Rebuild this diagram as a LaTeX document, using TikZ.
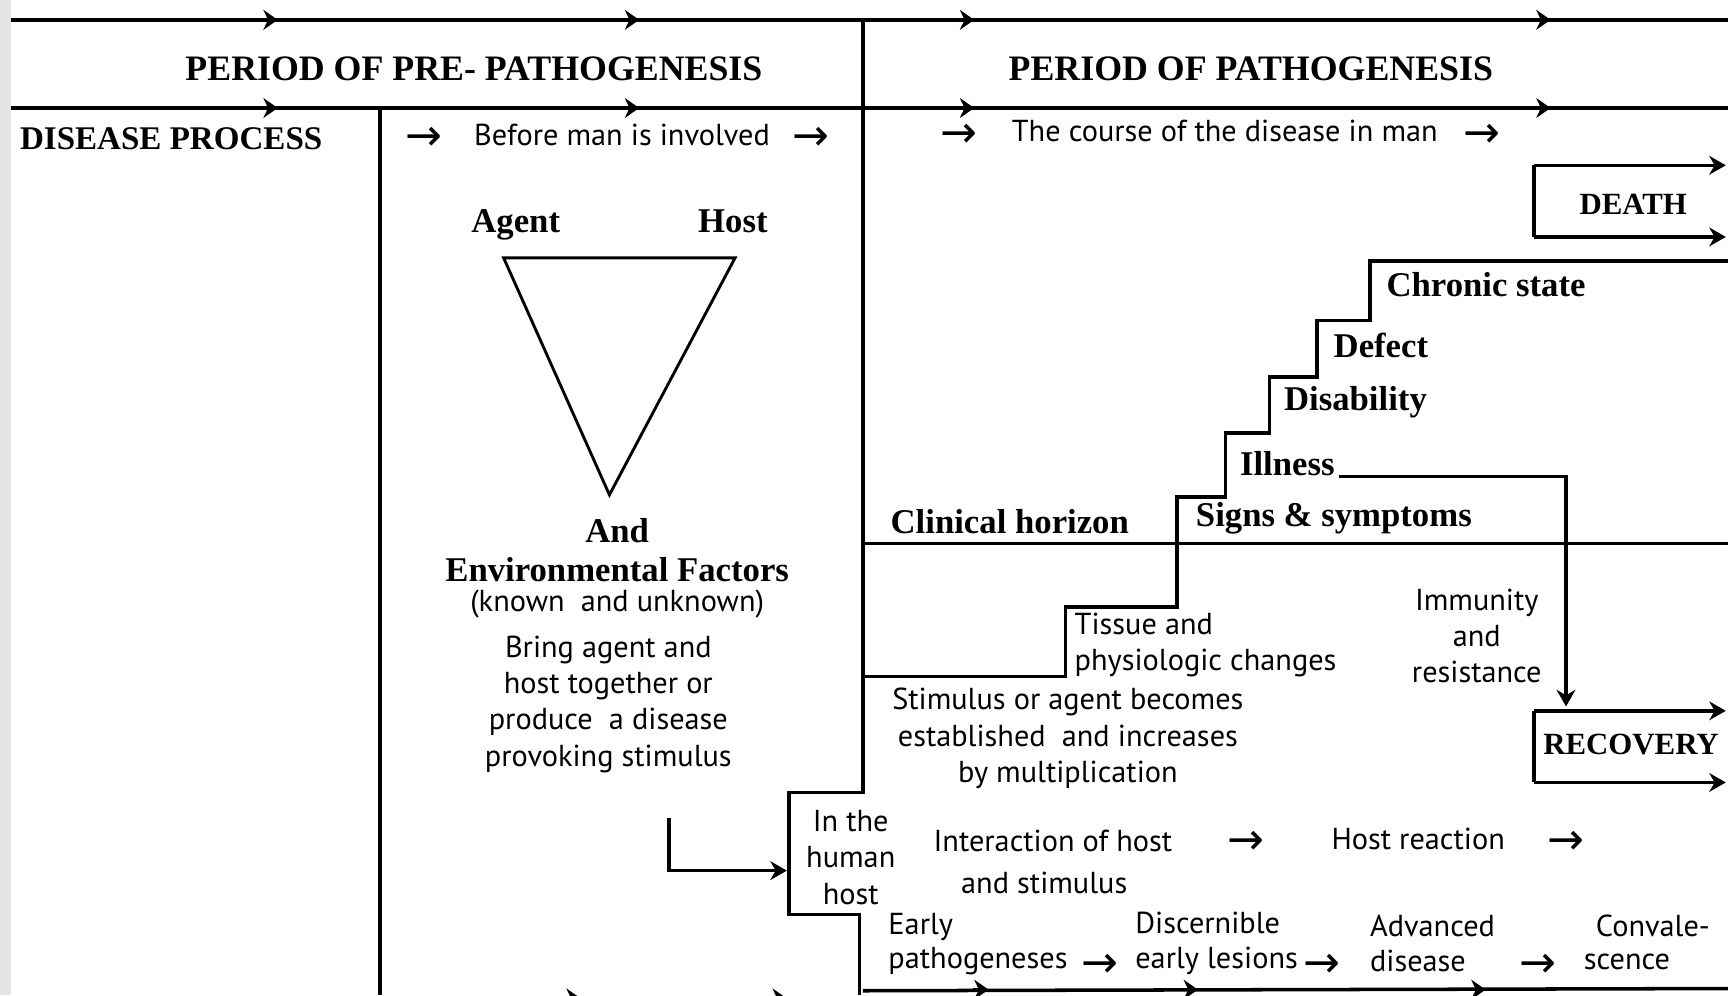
\documentclass[tikz,border=0pt]{standalone}
\usepackage{fontspec}
\setmainfont{PT Sans}
\newfontfamily\serifhd{Liberation Serif}
\newfontfamily\arrowfont{DejaVu Sans}
\usetikzlibrary{arrows.meta}

\tikzset{
  rule/.style={line width=3.2pt},
  midtip/.style={-{Stealth[length=13pt,width=18pt]}},
  endtip/.style={-{Stealth[length=15pt,width=17pt]}},
  head/.style={inner sep=0pt, font=\serifhd\bfseries\fontsize{32.5}{36}\selectfont},
  stage/.style={inner sep=0pt, font=\serifhd\bfseries\fontsize{31.5}{35}\selectfont, align=center},
  body/.style={inner sep=0pt, font=\fontsize{27.5}{33}\selectfont, align=center},
  txtarr/.style={inner sep=0pt, font=\arrowfont\fontsize{40}{40}\selectfont},
}

\begin{document}
\begin{tikzpicture}[x=1pt,y=-1pt]
\useasboundingbox (0,0) rectangle (1568,903);
\fill[black!10] (0,0) rectangle (10,903);

% period rows
\draw[rule] (10,18) -- (1568,18);
\draw[rule] (10,98) -- (1568,98);
\foreach \x in {252,580,884,1407} {
  \draw[rule,midtip] (\x-14,18) -- (\x,18);
  \draw[rule,midtip] (\x-14,98) -- (\x,98);
}
% bottom row, cut by the page edge
\draw[rule] (783,899) -- (1568,897);
\foreach \x in {527,714} \draw[rule,midtip] (\x-14,906) -- (\x,906);
\foreach \x in {897,1087,1348} \draw[rule,midtip] (\x-14,898) -- (\x,898);

\node[head] (prepat) at (430,62) {PERIOD OF PRE- PATHOGENESIS};
\node[head] (pat) at (1135,62) {PERIOD OF PATHOGENESIS};
\node[head, anchor=west, font=\serifhd\bfseries\fontsize{30}{34}\selectfont] (dproc) at (18,126) {DISEASE PROCESS};

\node[txtarr, anchor=west] (a1) at (368,126) {→};
\node[body, anchor=west] (before) at (430,122) {Before man is involved};
\node[txtarr, anchor=west] (a2) at (719,126) {→};
\node[txtarr, anchor=west] (a3) at (853,123) {→};
\node[body, anchor=west] (course) at (918,119) {The course of the disease in man};
\node[txtarr, anchor=west] (a4) at (1328,123) {→};

% column borders
\draw[rule] (345,98) -- (345,903);
\draw[rule] (783,18) -- (783,719) -- (716,719) -- (716,830) -- (780,830) -- (780,903);

% agent - host - environment
\coordinate (agentpt) at (457,234);
\coordinate (hostpt) at (667,234);
\coordinate (envpt) at (553,449);
\draw[line width=2.6pt] (agentpt) -- (hostpt) -- (envpt) -- cycle;
\node[stage, anchor=base] (agent) at (468,211) {Agent};
\node[stage, anchor=base] (host) at (665,211) {Host};
\node[stage] (env) at (560,499) {And\\Environmental Factors};
\node[body] (known) at (560,548) {(known\ \ and unknown)};
\node[body] (bring) at (552,639) {Bring agent and\\host together or\\produce\ \ a disease\\provoking stimulus};
\coordinate (stimtop) at (607,742);
\coordinate (hostin) at (714,790);
\draw[rule,endtip] (stimtop) |- (hostin);

% clinical horizon and stairs
\draw[rule] (783,493) -- (1568,493);
\draw[rule] (783,614) -- (967,614) -- (967,551) -- (1068,551) -- (1068,451) -- (1112,451) -- (1112,393) -- (1152,393) -- (1152,342) -- (1195,342) -- (1195,291) -- (1243,291) -- (1243,237) -- (1568,237);
\node[stage, anchor=west] (clin) at (808,473) {Clinical horizon};
\node[stage, anchor=west] (signs) at (1085,470) {Signs \& symptoms};
\node[stage, anchor=west] (ill) at (1125,421) {Illness};
\node[stage, anchor=west] (disab) at (1165,365) {Disability};
\node[stage, anchor=west] (defect) at (1210,313) {Defect};
\node[stage, anchor=west] (chronic) at (1258,258) {Chronic state};

% outcomes
\draw[rule] (1392,150) -- (1392,215);
\draw[rule,endtip] (1392,150) -- (1566,150);
\draw[rule,endtip] (1392,215) -- (1566,215);
\node[head, font=\serifhd\bfseries\fontsize{28}{32}\selectfont] (death) at (1482,185) {DEATH};
\draw[rule] (1392,645) -- (1392,710);
\draw[rule,endtip] (1392,645) -- (1566,645);
\draw[rule,endtip] (1392,710) -- (1566,710);
\node[head, font=\serifhd\bfseries\fontsize{28}{32}\selectfont] (recov) at (1480,676) {RECOVERY};
\coordinate (recovtop) at (1421,641);
\draw[rule,endtip] ([xshift=4pt]ill.south east) -| (recovtop);
\node[body] (immun) at (1340,577) {Immunity\\and\\resistance};

% early pathogenesis
\node[body, anchor=west, align=left] (tissue) at (975,585) {Tissue and\\physiologic changes};
\node[body] (stim) at (969,670) {Stimulus or agent becomes\\established\ \ and increases\\by multiplication};
\node[body] (inhost) at (772,778) {In the\\human\\host};
\node[body, anchor=west] (inter) at (847,763) {Interaction of host};
\node[body, anchor=west] (andstim) at (872,801) {and stimulus};
\node[txtarr, anchor=west] (a5) at (1114,765) {→};
\node[body, anchor=west] (hreact) at (1208,761) {Host reaction};
\node[txtarr, anchor=west] (a6) at (1404,765) {→};

% stages of the course
\node[body, anchor=west, align=left, font=\fontsize{27.5}{31}\selectfont] (early) at (806,857) {Early\\pathogeneses};
\node[txtarr, anchor=west] (a7) at (981,876) {→};
\node[body, anchor=west, align=left, font=\fontsize{27.5}{31}\selectfont] (discern) at (1030,856) {Discernible\\early lesions};
\node[txtarr, anchor=west] (a8) at (1183,876) {→};
\node[body, anchor=west, align=left, font=\fontsize{27.5}{31}\selectfont] (adv) at (1243,856) {Advanced\\disease};
\node[txtarr, anchor=west] (a9) at (1379,876) {→};
\node[body, anchor=west] (conv) at (1448,840) {Convale-};
\node[body, anchor=west] (scence) at (1437,873) {scence};
\end{tikzpicture}
\end{document}
